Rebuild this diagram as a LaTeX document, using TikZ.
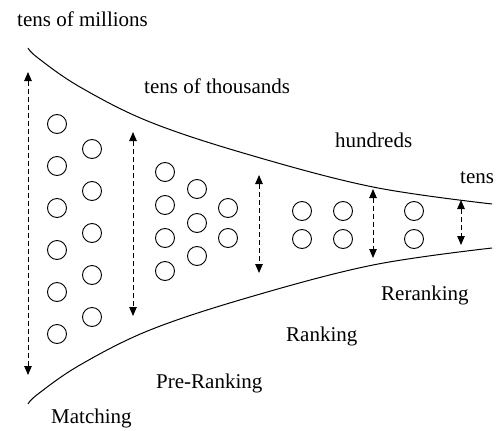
\documentclass[tikz,border=0pt]{standalone}
\usepackage{fontspec}
\setmainfont{Liberation Serif}
\usetikzlibrary{arrows.meta}
\begin{document}
\begin{tikzpicture}[x=1pt,y=-1pt,
  lbl/.style={anchor=base west,inner sep=0pt,font=\fontsize{21}{25}\selectfont},
  ball/.style={circle,draw,line width=0.9pt,minimum size=19pt,inner sep=0pt},
  span/.style={dashed,dash pattern=on 5pt off 3pt,line width=0.9pt,
    {Triangle[length=9pt,width=7.5pt]}-{Triangle[length=9pt,width=7.5pt]}},
  funnel/.style={line width=1pt}]
\useasboundingbox (0,0) rectangle (498,431);
% funnel curves
\draw[funnel] plot[smooth,tension=0.6] coordinates {(28,48) (38,58) (80,87) (150,122) (250,155) (373,187) (492,204)};
\draw[funnel] plot[smooth,tension=0.6] coordinates {(28,404) (38,394) (80,365) (150,330) (250,297) (373,265) (492,248)};
% labels
\node[lbl] (tm) at (17,26) {tens of millions};
\node[lbl] (tt) at (144,93) {tens of thousands};
\node[lbl] (hu) at (335,147) {hundreds};
\node[lbl] (te) at (460,183) {tens};
\node[lbl] (rr) at (381,300) {Reranking};
\node[lbl] (rk) at (286,341) {Ranking};
\node[lbl] (pr) at (156,388) {Pre-Ranking};
\node[lbl] (mt) at (51,423) {Matching};
% circles
\foreach \y [count=\i] in {124,166,208,250,292,334} \node[ball] (a\i) at (57,\y) {};
\foreach \y [count=\i] in {149,191,233,275,317} \node[ball] (b\i) at (92,\y) {};
\foreach \y [count=\i] in {172,205,238,271} \node[ball] (c\i) at (165,\y) {};
\foreach \y [count=\i] in {189,223,256} \node[ball] (d\i) at (197,\y) {};
\foreach \y [count=\i] in {208,238} \node[ball] (e\i) at (228,\y) {};
\foreach \y [count=\i] in {211,239} \node[ball] (f\i) at (302,\y) {};
\foreach \y [count=\i] in {211,239} \node[ball] (g\i) at (343,\y) {};
\foreach \y [count=\i] in {211,239} \node[ball] (h\i) at (414,\y) {};
% span arrows
\coordinate (s1t) at (28,72);  \coordinate (s1b) at (28,375);
\coordinate (s2t) at (133,132); \coordinate (s2b) at (133,316);
\coordinate (s3t) at (259,175); \coordinate (s3b) at (259,273);
\coordinate (s4t) at (373,189); \coordinate (s4b) at (373,258);
\coordinate (s5t) at (461,200); \coordinate (s5b) at (461,245);
\draw[span] (s1t) -- (s1b);
\draw[span] (s2t) -- (s2b);
\draw[span] (s3t) -- (s3b);
\draw[span] (s4t) -- (s4b);
\draw[span] (s5t) -- (s5b);
\end{tikzpicture}
\end{document}
